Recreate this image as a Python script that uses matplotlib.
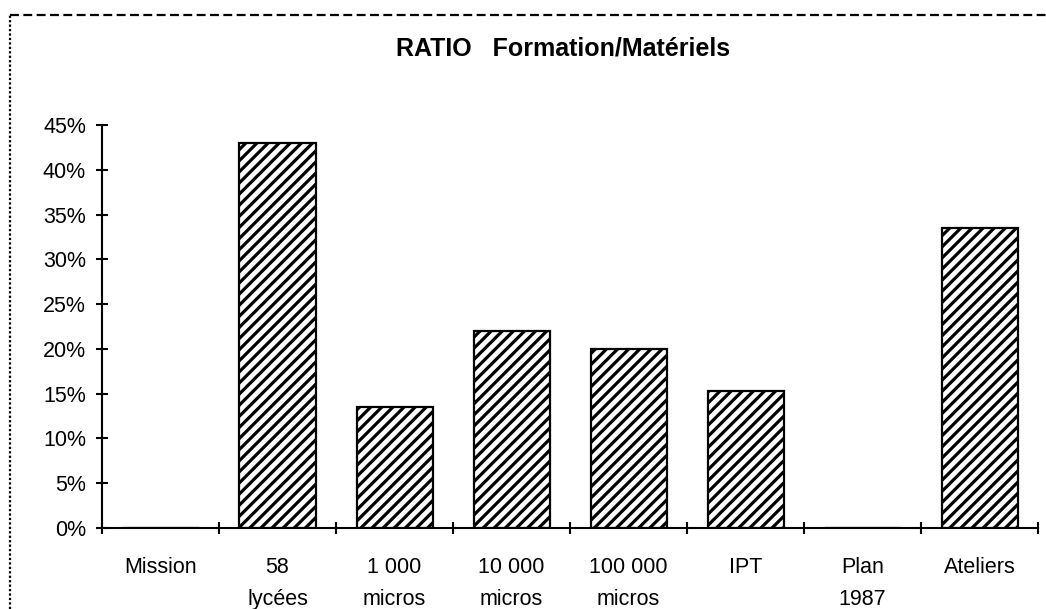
import matplotlib
matplotlib.use("Agg")
import matplotlib.pyplot as plt
from matplotlib.lines import Line2D
from matplotlib.ticker import FuncFormatter, MultipleLocator, FixedLocator

categories = ["Mission", "58\nlycées", "1 000\nmicros", "10 000\nmicros",
              "100 000\nmicros", "IPT", "Plan\n1987", "Ateliers"]
values = [0, 43.0, 13.5, 22.0, 20.0, 15.3, 0, 33.5]
title = "RATIO   Formation/Matériels"

plt.rcParams['font.family'] = ['Liberation Sans', 'DejaVu Sans']
plt.rcParams['hatch.linewidth'] = 2.3

fig = plt.figure(figsize=(10.46, 6.09), dpi=100)
ax = fig.add_axes([0.0975, 0.133, 0.895, 0.6617])

x = [i + 0.5 for i in range(len(categories))]
bars = ax.bar(x, values, width=0.65, facecolor="white", edgecolor="black",
              linewidth=1.6, hatch="///", zorder=2)
for b in bars:
    if hasattr(b, "set_hatch_linewidth"):
        b.set_hatch_linewidth(2.3)

ax.set_xlim(0, len(categories))
ax.set_ylim(0, 45)
ax.yaxis.set_major_locator(MultipleLocator(5))
ax.yaxis.set_major_formatter(FuncFormatter(lambda v, p: f"{int(round(v))}%"))

ax.xaxis.set_major_locator(FixedLocator(x))
ax.set_xticklabels(categories, linespacing=1.7)
ax.xaxis.set_minor_locator(FixedLocator(list(range(len(categories) + 1))))
ax.tick_params(axis='x', which='major', length=0, pad=21, labelsize=15.5)
ax.tick_params(axis='x', which='minor', direction='inout', length=9, width=1.5)
ax.tick_params(axis='y', which='major', direction='inout', length=9, width=1.5,
               pad=7, labelsize=15.5)

for s in ['top', 'right']:
    ax.spines[s].set_visible(False)
for s in ['left', 'bottom']:
    ax.spines[s].set_linewidth(1.5)

fig.text(0.538, 0.921, title, ha='center', va='center', fontsize=18,
         fontweight='bold')

# dashed frame
W, H = 1046, 609
fig.add_artist(Line2D([10 / W, 1.0], [1 - 15 / H] * 2, transform=fig.transFigure,
                      color='black', linewidth=1.6, linestyle=(0, (4, 2))))
fig.add_artist(Line2D([10 / W] * 2, [0, 1 - 15 / H], transform=fig.transFigure,
                      color='black', linewidth=1.6, linestyle=(0, (1, 1))))

fig.savefig("out.png", dpi=100)
